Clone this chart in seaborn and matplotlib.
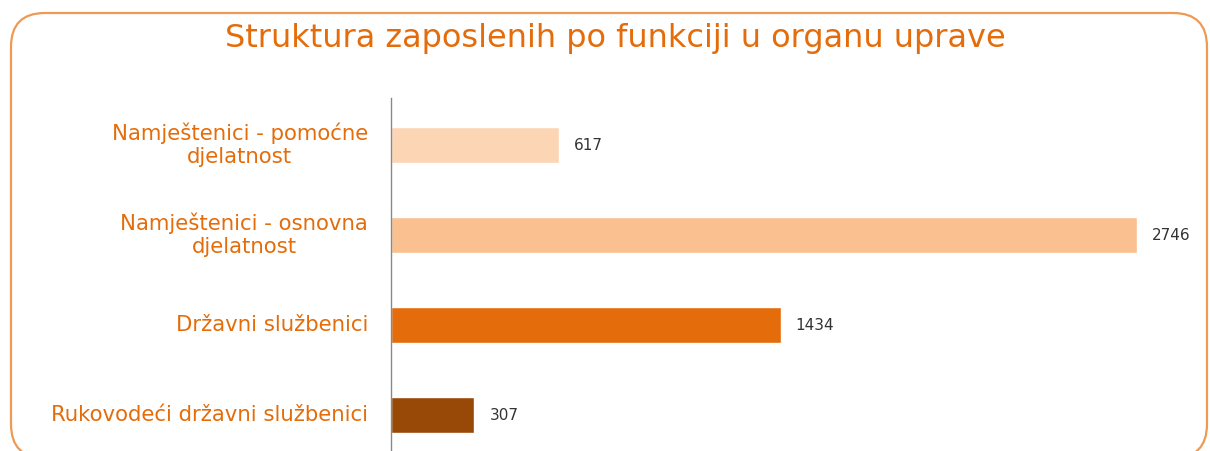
import matplotlib
matplotlib.use("Agg")
import matplotlib.pyplot as plt
import seaborn as sns
import pandas as pd
from matplotlib.patches import FancyBboxPatch

categories = ["Namještenici - pomoćne\ndjelatnost",
              "Namještenici - osnovna\ndjelatnost",
              "Državni službenici",
              "Rukovodeći državni službenici"]
values = [617, 2746, 1434, 307]
colors = ["#FCD5B5", "#FAC090", "#E46C0A", "#984807"]

sns.set_theme(style="white")
plt.rcParams['font.family'] = ['DejaVu Sans']

W, H = 1210, 451
fig = plt.figure(figsize=(W / 100, H / 100), dpi=100)

# rounded frame
frame = FancyBboxPatch((11 / W, (H - 458) / H), (1207 - 11) / W, (458 - 13) / H,
                       boxstyle="round,pad=0,rounding_size=0.028",
                       transform=fig.transFigure, fill=False,
                       edgecolor="#EE9A55", linewidth=1.6, mutation_aspect=W / H)
fig.patches.append(frame)

ax_left, ax_right = 391, 1200
ax_top, ax_bottom = 98, 451
ax = fig.add_axes([ax_left / W, (H - ax_bottom) / H, (ax_right - ax_left) / W, (ax_bottom - ax_top) / H])

df = pd.DataFrame({"cat": categories, "val": values})
sns.barplot(data=df, x="val", y="cat", hue="cat", palette=colors, orient="h",
            width=0.4, legend=False, ax=ax, saturation=1)

scale = (1137 - 391) / 2746
ax.set_xlim(0, (ax_right - ax_left) / scale)
ax.set_ylim(3 + (ax_bottom - 415) / 90, -(145 - ax_top) / 90)

for i, v in enumerate(values):
    ax.text(v + 15 / scale, i, str(v), va="center", ha="left", fontsize=11, color="#333333")

ax.set_xlabel("")
ax.set_ylabel("")
ax.set_xticks([])
ax.set_yticks(range(len(categories)))
ax.set_yticklabels([])
ax.tick_params(axis="y", length=0)
for i, c in enumerate(categories):
    ax.text(-23 / scale, i, c, ha="right", va="center", multialignment="center",
            fontsize=15.3, color="#E46C0A", linespacing=1.2, clip_on=False)
for s in ["top", "right", "bottom"]:
    ax.spines[s].set_visible(False)
ax.spines["left"].set_color("#888888")
ax.spines["left"].set_linewidth(1)
ax.patch.set_alpha(0)

fig.text(615 / W, 1 - 38 / H, "Struktura zaposlenih po funkciji u organu uprave",
         ha="center", va="center", fontsize=23, color="#E46C0A")

fig.savefig("out.png", dpi=100)
